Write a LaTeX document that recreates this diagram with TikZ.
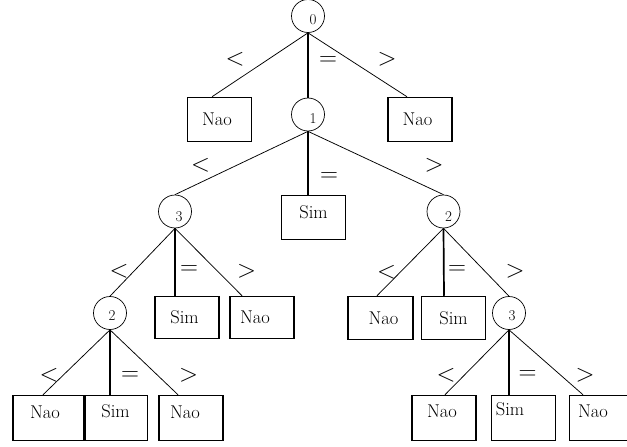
\documentclass[tikz,border=0pt]{standalone}
\begin{document}
\begin{tikzpicture}[x=1pt,y=-1pt]
\tikzset{
  crc/.style={circle, draw, line width=0.7pt, minimum size=33pt, inner sep=0pt},
  num/.style={font=\fontsize{15}{17}\selectfont, inner sep=0pt},
  box/.style={rectangle, draw, line width=1.5pt, inner sep=0pt, font=\fontsize{18.5}{20}\selectfont},
  rel/.style={font=\fontsize{30}{32}\selectfont, inner sep=0pt},
  dline/.style={line width=0.75pt},
  vline/.style={line width=1.7pt}
}
\useasboundingbox (0,0) rectangle (627,447);
% circles
\node[crc, label={[num,xshift=5pt,yshift=-4pt]center:0}] (c0) at (308,16) {};
\node[crc, label={[num,xshift=5pt,yshift=-4.5pt]center:1}] (c1) at (308,114.5) {};
\node[crc, label={[num,xshift=4pt,yshift=-5pt]center:3}] (c3L) at (175,211.5) {};
\node[crc, label={[num,xshift=5pt,yshift=-5pt]center:2}] (c2R) at (443.5,211.5) {};
\node[crc, label={[num,xshift=2pt,yshift=-3pt]center:2}] (c2L) at (110,313) {};
\node[crc, label={[num,xshift=3pt,yshift=-3pt]center:3}] (c3R) at (509,313) {};
% boxes
\node[box, minimum width=64pt, minimum height=44pt] (b0L) at (219.5,119.5) {\hspace*{-5pt}Nao};
\node[box, minimum width=64pt, minimum height=44pt] (b0R) at (420,119.5) {\hspace*{-5pt}Nao};
\node[box, minimum width=64pt, minimum height=44pt, text depth=11pt] (b1M) at (313.5,217.5) {Sim};
\node[box, minimum width=64pt, minimum height=42pt] (b3M) at (187,317.5) {\hspace*{-5pt}Sim};
\node[box, minimum width=64pt, minimum height=42pt] (b3R) at (262,317.5) {\hspace*{-14pt}Nao};
\node[box, minimum width=65pt, minimum height=43pt] (b2RL) at (380.5,318) {\hspace*{6pt}Nao};
\node[box, minimum width=64pt, minimum height=43pt] (b2RM) at (453.5,318) {Sim};
\node[box, minimum width=72pt, minimum height=45pt, text depth=12pt] (b2LL) at (49,418) {\hspace*{-8pt}Nao};
\node[box, minimum width=64pt, minimum height=45pt, text depth=14pt] (b2LM) at (115.5,418) {Sim};
\node[box, minimum width=64pt, minimum height=45pt, text depth=12pt] (b2LR) at (191,418) {\hspace*{-12pt}Nao};
\node[box, minimum width=64pt, minimum height=45pt, text depth=13pt] (b3RL) at (444,418) {\hspace*{-4pt}Nao};
\node[box, minimum width=64pt, minimum height=45pt, text depth=17pt] (b3RM) at (523.5,418) {\hspace*{-27pt}Sim};
\node[box, minimum width=66pt, minimum height=45pt, text depth=13pt] (b3RR) at (602.5,418) {\hspace*{-19pt}Nao};
% connectors
\draw[dline] (c0.south) -- ([xshift=-7.5pt]b0L.north);
\draw[vline] (c0.south) -- (c1.north);
\draw[dline] (c0.south) -- ([xshift=-13pt]b0R.north);
\draw[dline] (c1.south) -- (c3L.north);
\draw[vline] (c1.south) -- ([xshift=-5.5pt]b1M.north);
\draw[dline] (c1.south) -- (c2R.north);
\draw[dline] (c3L.south) -- (c2L.north);
\draw[vline] (c3L.south) -- ([xshift=-12pt]b3M.north);
\draw[dline] (c3L.south) -- ([xshift=-20pt]b3R.north);
\draw[dline] (c2R.south) -- ([xshift=-3.5pt]b2RL.north);
\draw[vline] (c2R.south) -- ([xshift=-9.5pt]b2RM.north);
\draw[dline] (c2R.south) -- (c3R.north);
\draw[dline] (c2L.south) -- ([xshift=-6pt]b2LL.north);
\draw[vline] (c2L.south) -- ([xshift=-5.5pt]b2LM.north);
\draw[dline] (c2L.south) -- ([xshift=-13pt]b2LR.north);
\draw[dline] (c3R.south) -- ([xshift=1pt]b3RL.north);
\draw[vline] (c3R.south) -- ([xshift=-14.5pt]b3RM.north);
\draw[dline] (c3R.south) -- ([xshift=-19.5pt]b3RR.north);
% relation labels
\node[rel] (r0a) at (235,59) {$<$};
\node[rel] (r0b) at (328,61) {$=$};
\node[rel] (r0c) at (387,59) {$>$};
\node[rel] (r1a) at (200.5,165.5) {$<$};
\node[rel] (r1b) at (329,177) {$=$};
\node[rel] (r1c) at (434,165) {$>$};
\node[rel] (r3a) at (119,271.5) {$<$};
\node[rel] (r3b) at (189,270) {$=$};
\node[rel] (r3c) at (246.5,271) {$>$};
\node[rel] (r2a) at (386.5,272) {$<$};
\node[rel] (r2b) at (457,270) {$=$};
\node[rel] (r2c) at (515,271) {$>$};
\node[rel] (r4a) at (49,375) {$<$};
\node[rel] (r4b) at (130,376) {$=$};
\node[rel] (r4c) at (188.5,375) {$>$};
\node[rel] (r5a) at (446,375) {$<$};
\node[rel] (r5b) at (527.5,375) {$=$};
\node[rel] (r5c) at (585,375) {$>$};
\end{tikzpicture}
\end{document}
